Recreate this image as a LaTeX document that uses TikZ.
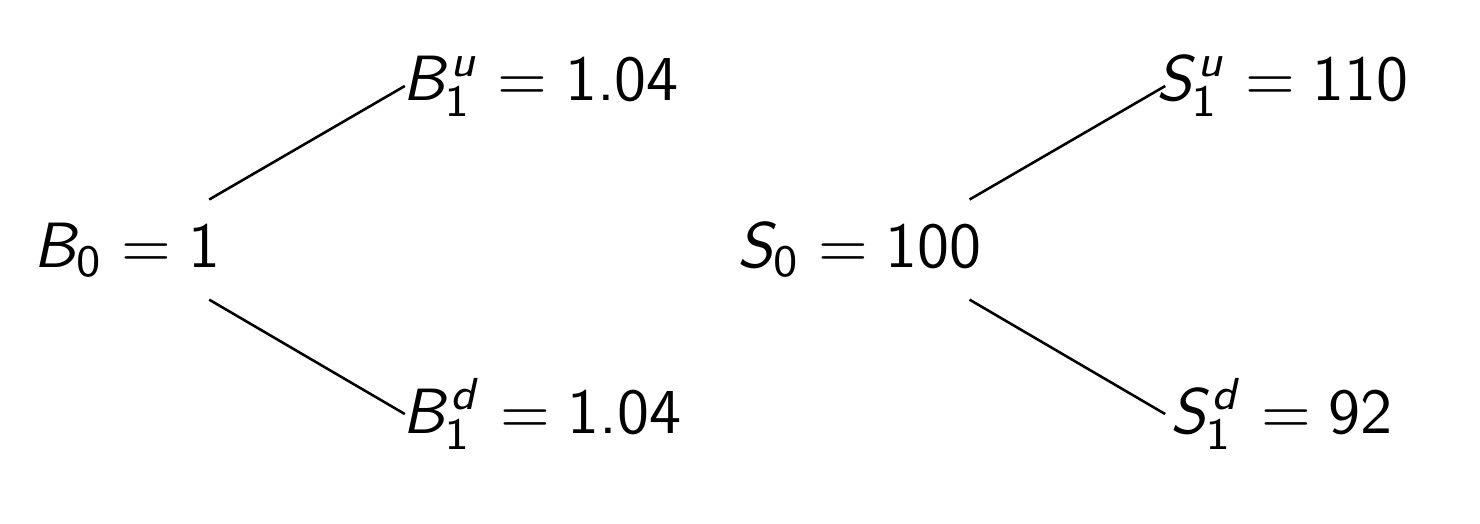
\documentclass[tikz,border=0pt]{standalone}
\usepackage{amsmath}
\usepackage{tikz}
\usetikzlibrary{positioning}
\usetikzlibrary{calc}
% sans serif math, slide look
\SetSymbolFont{operators}{normal}{OT1}{cmss}{m}{n}
\SetSymbolFont{letters}{normal}{OT1}{cmss}{m}{it}
\mathcode`.="002E

\begin{document}
\begin{tikzpicture}[x=0.15625pt, y=-0.15625pt,
		root/.style = {inner xsep=0pt, inner ysep=3.4pt, anchor=base east},
		leaf/.style = {inner sep=0pt, anchor=base west},
		branch/.style = {draw, thin}]
		
		\useasboundingbox (0,0) rectangle (1480,524);
		
		% Bond
		\node[root] (B0) at (222,267) {$B_0 = 1$};
		\node[leaf] (Bu) at (401,100) {$B_1^u = 1.04$};
		\node[leaf] (Bd) at (401,433) {$B_1^d = 1.04$};
		
		% Stock
		\node[root] (S0) at (983,267) {$S_0 = 100$};
		\node[leaf] (Su) at (1155,100) {$S_1^u = 110$};
		\node[leaf] (Sd) at (1169,433) {$S_1^d = 92$};
		
		% Branches
		\draw[branch] ([xshift=-2pt]B0.north east) -- ([xshift=0.6pt]Bu.west);
		\draw[branch] ([xshift=-2pt]B0.south east) -- ([xshift=0.6pt]Bd.west);
		\draw[branch] ([xshift=-2.1pt]S0.north east) -- ([xshift=1.6pt]Su.west);
		\draw[branch] ([xshift=-2.1pt]S0.south east) -- ([xshift=-0.6pt]Sd.west);
	\end{tikzpicture}
\end{document}
